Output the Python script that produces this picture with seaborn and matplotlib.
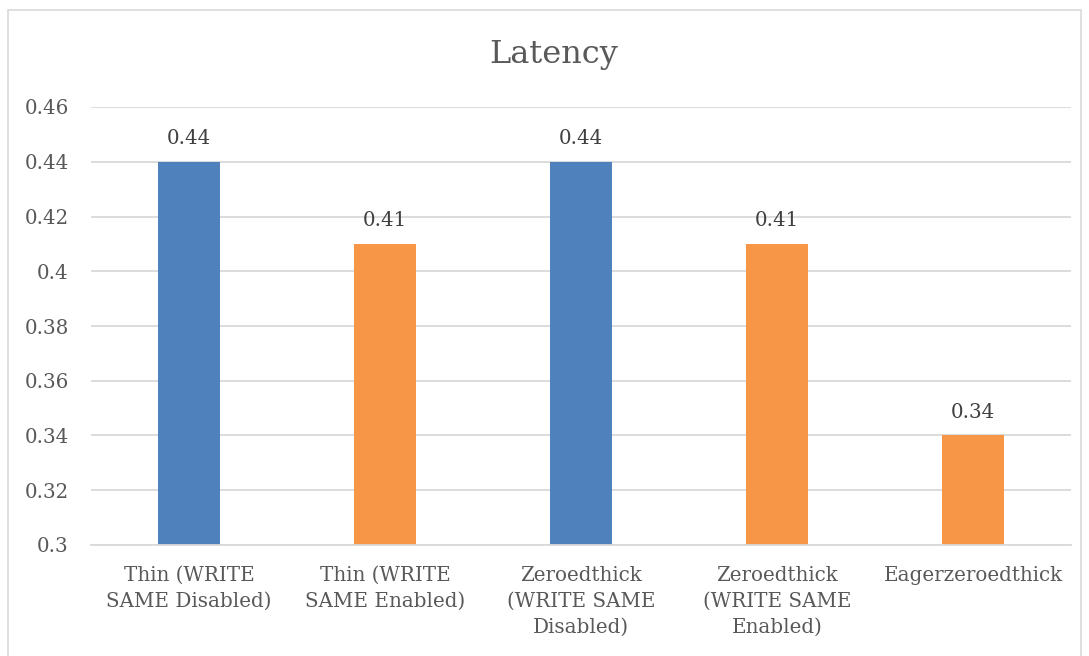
import matplotlib
matplotlib.use("Agg")
import matplotlib.pyplot as plt
import seaborn as sns
import pandas as pd
from matplotlib.patches import Rectangle

categories = [
    "Thin (WRITE\nSAME Disabled)",
    "Thin (WRITE\nSAME Enabled)",
    "Zeroedthick\n(WRITE SAME\nDisabled)",
    "Zeroedthick\n(WRITE SAME\nEnabled)",
    "Eagerzeroedthick",
]
latency = [0.44, 0.41, 0.44, 0.41, 0.34]
write_same = ["Disabled", "Enabled", "Disabled", "Enabled", "Enabled"]
y_ticks = [0.3, 0.32, 0.34, 0.36, 0.38, 0.4, 0.42, 0.44, 0.46]
y_tick_labels = ["0.3", "0.32", "0.34", "0.36", "0.38", "0.4", "0.42", "0.44", "0.46"]

df = pd.DataFrame({"category": categories, "latency": latency, "mode": write_same})
palette = {"Disabled": "#4F81BD", "Enabled": "#F79646"}

sns.set_style("white")
plt.rcParams["font.family"] = ["DejaVu Serif"]
text_color = "#595959"

fig = plt.figure(figsize=(10.89, 6.56), dpi=100)
ax = fig.add_axes([91 / 1089, 1 - 545 / 656, (1071 - 91) / 1089, (545 - 107) / 656])

sns.barplot(data=df, x="category", y="latency", hue="mode", palette=palette,
            dodge=False, width=0.316, legend=False, ax=ax, saturation=1,
            linewidth=0)

ax.set_ylim(0.3, 0.46)
ax.set_xlim(-0.5, len(categories) - 0.5)
ax.set_yticks(y_ticks)
ax.set_yticklabels(y_tick_labels)
ax.yaxis.grid(True, color="#D9D9D9", linewidth=1.3)
ax.set_axisbelow(True)
for side in ["top", "right", "left"]:
    ax.spines[side].set_visible(False)
ax.spines["bottom"].set_color("#D9D9D9")
ax.spines["bottom"].set_linewidth(1.3)
ax.set_xlabel("")
ax.set_ylabel("")
ax.tick_params(axis="both", length=0, labelsize=14.3, colors=text_color)
ax.tick_params(axis="y", pad=16)
ax.tick_params(axis="x", pad=15)
for lbl in ax.get_xticklabels():
    lbl.set_linespacing(1.45)
    lbl.set_verticalalignment("top")

for i, v in enumerate(latency):
    ax.annotate(f"{v:.2f}", (i, v), xytext=(0, 10), textcoords="offset points",
                ha="center", va="bottom", fontsize=14.3, color="#404040")

fig.text(554 / 1089, 1 - 55 / 656, "Latency", ha="center", va="center",
         fontsize=23, color=text_color)

# chart frame
fig.patches.append(Rectangle((8 / 1089, -0.01), (1081 - 8) / 1089, 1 - 10 / 656 + 0.01,
                             transform=fig.transFigure, fill=False,
                             edgecolor="#D9D9D9", linewidth=1.2))

fig.savefig("out.png", dpi=100)
